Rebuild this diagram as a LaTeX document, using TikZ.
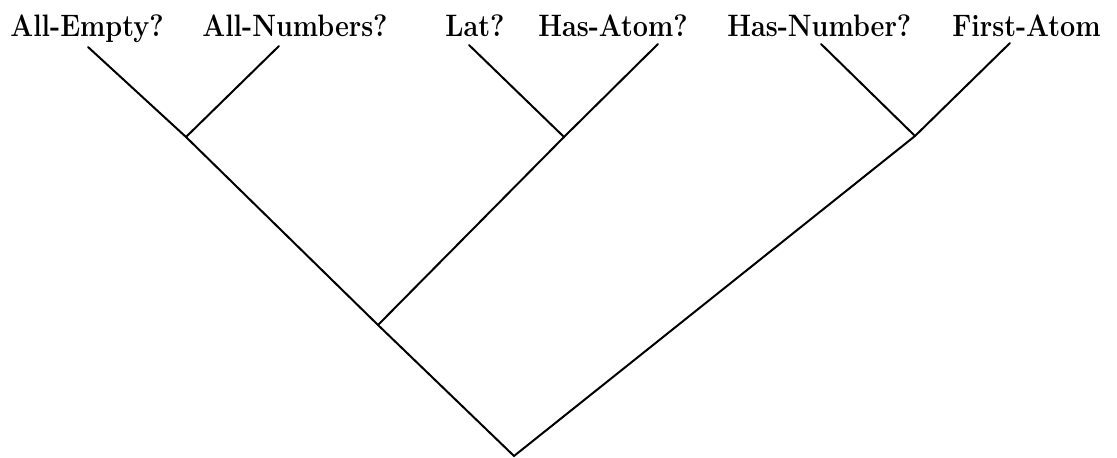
\documentclass[tikz,border=0pt]{standalone}
\usepackage{tikz}

\begin{document}
\begin{tikzpicture}[x=0.5pt, y=-0.5pt,
    lbl/.style={anchor=base west, inner sep=0pt, xscale=0.87, transform shape,
                font=\bfseries\fontsize{15.5}{18}\selectfont},
    edge/.style={line width=1pt, black, line cap=round}
]
    \useasboundingbox (0,0) rectangle (1117,458);

    % names along the top
    \node[lbl] (allempty) at (10,37)  {All-Empty?};
    \node[lbl] (allnum)   at (202,37) {All-Numbers?};
    \node[lbl] (lat)      at (445,37) {Lat?};
    \node[lbl] (hasatom)  at (538,37) {Has-Atom?};
    \node[lbl] (hasnum)   at (727,37) {Has-Number?};
    \node[lbl] (firstat)  at (952,37) {First-Atom};

    % leaf ends under the names
    \coordinate (tAE)  at (88,47);
    \coordinate (tAN)  at (279,46);
    \coordinate (tLat) at (469,45);
    \coordinate (tHA)  at (658,44);
    \coordinate (tHN)  at (821,44);
    \coordinate (tFA)  at (1010,43);

    % inner joins and the root
    \coordinate (jA)   at (186,137);
    \coordinate (jB)   at (564,137);
    \coordinate (jC)   at (915,136);
    \coordinate (jAB)  at (378,325);
    \coordinate (root) at (514,456);

    \draw[edge] (tAE) -- (jA) -- (jAB) -- (root) -- (jC) -- (tFA);
    \draw[edge] (tAN) -- (jA);
    \draw[edge] (tLat) -- (jB) -- (tHA);
    \draw[edge] (jB) -- (jAB);
    \draw[edge] (tHN) -- (jC);
\end{tikzpicture}
\end{document}
